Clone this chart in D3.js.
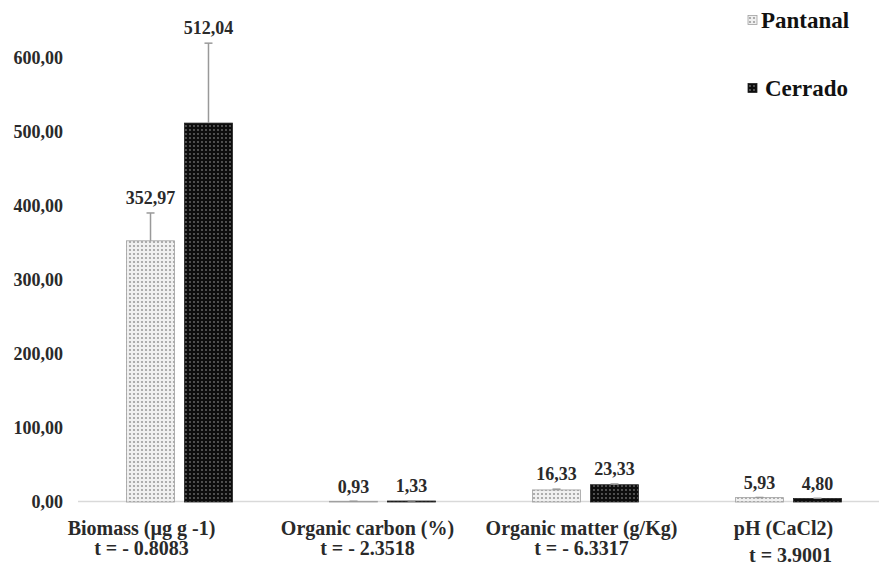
<!DOCTYPE html>
<html>
<head>
<meta charset="utf-8">
<script src="https://cdn.jsdelivr.net/npm/d3@7"></script>
<style>
  body { margin: 0; background: #fff; }
</style>
</head>
<body>
<svg id="chart" width="879" height="565"></svg>
<script>
const categories = ["Biomass (µg g -1)", "Organic carbon (%)", "Organic matter (g/Kg)", "pH (CaCl2)"]
const tStats = ["t = - 0.8083", "t = - 2.3518", "t = - 6.3317", "t = 3.9001"]
const series = ["Pantanal", "Cerrado"]
const pantanal = [352.97, 0.93, 16.33, 5.93]
const cerrado = [512.04, 1.33, 23.33, 4.8]
const pantanalErr = [37.6, 0.1, 1.0, 0.2]
const cerradoErr = [108.0, 0.15, 1.0, 0.2]
const yTicks = [0, 100, 200, 300, 400, 500, 600]

// label nudges (category text sits a little left of group centre in the original)
const labelDx = [-38, -15, -4, -5]
const tDx = [-38, -15, -4, 2]
const tDy = [0, 0, 0, 7]

const svg = d3.select("#chart")
  .attr("font-family", "'Liberation Serif', 'Times New Roman', Times, serif")
  .attr("font-weight", "bold")

const x = d3.scaleBand().domain(categories).range([78, 890]).paddingInner(0.478).paddingOuter(0.239)
const xs = d3.scaleBand().domain(series).range([0, x.bandwidth()]).paddingInner(0.172)
const y = d3.scaleLinear().domain([0, 600]).range([502, 58])

const defs = svg.append("defs")
const pl = defs.append("pattern").attr("id", "patP").attr("width", 4).attr("height", 4).attr("patternUnits", "userSpaceOnUse")
pl.append("rect").attr("width", 4).attr("height", 4).attr("fill", "#f0f0f0")
pl.append("circle").attr("cx", 2).attr("cy", 2).attr("r", 1.1).attr("fill", "#9c9c9c")
const pd = defs.append("pattern").attr("id", "patC").attr("width", 4).attr("height", 4).attr("patternUnits", "userSpaceOnUse")
pd.append("rect").attr("width", 4).attr("height", 4).attr("fill", "#0d0d0d")
pd.append("circle").attr("cx", 2).attr("cy", 2).attr("r", 0.9).attr("fill", "#6e6e6e")

const fills = { Pantanal: "url(#patP)", Cerrado: "url(#patC)" }
const strokes = { Pantanal: "#a0a0a0", Cerrado: "#222" }

// y axis labels only
svg.append("g").selectAll("text").data(yTicks).join("text")
  .attr("x", 63).attr("y", (d) => y(d)).attr("dy", "0.35em")
  .attr("text-anchor", "end").attr("font-size", 18).attr("fill", "#2a2a2a")
  .text((d) => d3.format(".2f")(d).replace(".", ","))

// baseline
svg.append("line").attr("x1", 78).attr("x2", 879).attr("y1", y(0) - 0.5).attr("y2", y(0) - 0.5)
  .attr("stroke", "#d9d9d9").attr("stroke-width", 1.5)

const rows = categories.map((c, i) => [
  { cat: c, key: "Pantanal", value: pantanal[i], err: pantanalErr[i] },
  { cat: c, key: "Cerrado", value: cerrado[i], err: cerradoErr[i] },
]).flat()

const g = svg.append("g")
g.selectAll("rect.bar").data(rows).join("rect").attr("class", "bar")
  .attr("x", (d) => x(d.cat) + xs(d.key))
  .attr("width", xs.bandwidth())
  .attr("y", (d) => y(d.value))
  .attr("height", (d) => y(0) - y(d.value))
  .attr("fill", (d) => fills[d.key])
  .attr("stroke", (d) => strokes[d.key]).attr("stroke-width", 0.8)

// error bars (upper only)
const cx = (d) => x(d.cat) + xs(d.key) + xs.bandwidth() / 2
g.selectAll("line.err").data(rows).join("line").attr("class", "err")
  .attr("x1", cx).attr("x2", cx)
  .attr("y1", (d) => y(d.value)).attr("y2", (d) => y(d.value + d.err))
  .attr("stroke", "#999").attr("stroke-width", 1.5)
g.selectAll("line.cap").data(rows).join("line").attr("class", "cap")
  .attr("x1", (d) => cx(d) - 4).attr("x2", (d) => cx(d) + 4)
  .attr("y1", (d) => y(d.value + d.err)).attr("y2", (d) => y(d.value + d.err))
  .attr("stroke", "#999").attr("stroke-width", 1.5)

// value labels
g.selectAll("text.val").data(rows).join("text").attr("class", "val")
  .attr("x", cx).attr("y", (d) => y(d.value + d.err) - 15).attr("dy", "0.35em")
  .attr("text-anchor", "middle").attr("font-size", 18).attr("fill", "#2a2a2a")
  .text((d) => d.value.toFixed(2).replace(".", ","))

// category labels
const cl = svg.append("g").attr("fill", "#2a2a2a")
cl.selectAll("text.cat").data(categories).join("text").attr("class", "cat")
  .attr("x", (d, i) => x(d) + x.bandwidth() / 2 + labelDx[i]).attr("y", 528).attr("dy", "0.35em")
  .attr("text-anchor", "middle").attr("font-size", 20).text((d) => d)
cl.selectAll("text.t").data(categories).join("text").attr("class", "t")
  .attr("x", (d, i) => x(d) + x.bandwidth() / 2 + tDx[i]).attr("y", (d, i) => 548 + tDy[i]).attr("dy", "0.35em")
  .attr("text-anchor", "middle").attr("font-size", 20).text((d, i) => tStats[i])

// legend
const legendY = [20, 88]
const lg = svg.append("g").selectAll("g").data(series).join("g")
  .attr("transform", (d, i) => `translate(748, ${legendY[i]})`)
lg.append("rect").attr("x", 0).attr("y", -4.5).attr("width", 9).attr("height", 9)
  .attr("fill", (d) => fills[d]).attr("stroke", (d) => strokes[d]).attr("stroke-width", 0.8)
lg.append("text").attr("x", (d, i) => (i === 0 ? 13 : 17)).attr("dy", "0.35em")
  .attr("font-size", 23).attr("fill", "#111").text((d) => d)
</script>
</body>
</html>
